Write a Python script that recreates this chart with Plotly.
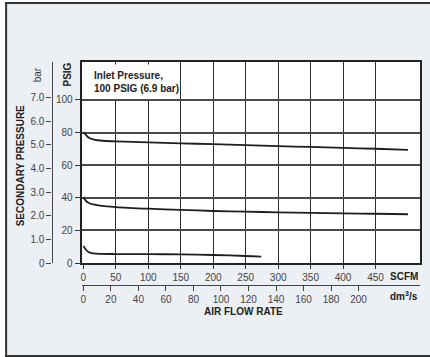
import plotly.graph_objects as go

# ---------------- data ----------------
scfm_ticks = [0, 50, 100, 150, 200, 250, 300, 350, 400, 450]
dm3s_ticks = [0, 20, 40, 60, 80, 100, 120, 140, 160, 180, 200]
psig_ticks = [0, 20, 40, 60, 80, 100]
bar_ticks = [0, 1, 2, 3, 4, 5, 6, 7]
bar_labels = ["0", "1.0", "2.0", "3.0", "4.0", "5.0", "6.0", "7.0"]

flow_80 = [0, 3, 6, 10, 15, 22, 30, 50, 100, 150, 200, 250, 300, 350, 400, 450, 500]
press_80 = [80.3, 79.0, 77.6, 76.5, 75.8, 75.3, 75.0, 74.6, 74.0, 73.4, 72.9, 72.3, 71.7, 71.2, 70.6, 70.1, 69.4]

flow_40 = [0, 3, 6, 10, 15, 25, 50, 100, 150, 200, 250, 300, 350, 400, 450, 500]
press_40 = [40.5, 38.6, 37.4, 36.5, 35.9, 35.2, 34.3, 33.3, 32.6, 31.9, 31.5, 31.1, 30.8, 30.5, 30.2, 29.9]

flow_10 = [0, 3, 6, 10, 15, 25, 50, 100, 150, 200, 250, 274]
press_10 = [10.5, 8.6, 7.3, 6.4, 5.9, 5.6, 5.5, 5.4, 5.3, 4.9, 4.3, 3.9]

SCFM_TO_DM3S = 0.4719
PSI_PER_BAR = 14.5038
x_range = [-1.5, 518.5]
y_range = [0, 123.3]

# ---------------- layout helpers (pixel -> paper) ----------------
W, H = 430, 357
ML, MR, MT, MB = 30, 8, 62, 60
PW = W - ML - MR
PH = H - MT - MB


def px(x):
    return (x - ML) / PW


def py(y):
    return (H - MB - y) / PH


plot_left, plot_bottom = 82.7, 263.0

fig = go.Figure()
line_style = dict(color="#1e1e1e", width=1.8, shape="spline", smoothing=0.6)
for fx, fy in [(flow_80, press_80), (flow_40, press_40), (flow_10, press_10)]:
    fig.add_trace(go.Scatter(x=fx, y=fy, mode="lines", line=line_style,
                             hoverinfo="skip", showlegend=False))
# carrier trace for secondary axes
fig.add_trace(go.Scatter(x=[None], y=[None], xaxis="x2", yaxis="y2",
                         mode="lines", showlegend=False, hoverinfo="skip"))

tick_font = dict(family="Liberation Sans, Arial, sans-serif", size=10, color="#444")
bold_font = dict(family="Liberation Sans, Arial, sans-serif", size=10, color="#222")

fig.update_layout(
    width=W, height=H,
    margin=dict(l=ML, r=MR, t=MT, b=MB, pad=0),
    paper_bgcolor="#eceff3",
    plot_bgcolor="white",
    showlegend=False,
    xaxis=dict(
        domain=[px(plot_left), 1], range=x_range, anchor="y",
        tickvals=scfm_ticks, ticks="outside", ticklen=4, tickwidth=1.2, tickcolor="#333",
        showgrid=True, gridcolor="#2e2e2e", gridwidth=1.4,
        showline=True, mirror=True, linecolor="#222", linewidth=1.5,
        zeroline=False, tickfont=tick_font, fixedrange=True,
    ),
    yaxis=dict(
        domain=[py(plot_bottom), 1], range=y_range, anchor="x",
        tickvals=psig_ticks, ticks="outside", ticklen=6, tickwidth=1.2, tickcolor="#333",
        showgrid=True, gridcolor="#4a4a4a", gridwidth=1.5,
        showline=True, mirror=True, linecolor="#222", linewidth=1.5,
        zeroline=False, tickfont=tick_font, fixedrange=True,
    ),
    xaxis2=dict(
        overlaying="x", anchor="free", position=py(285), side="bottom",
        range=[v * SCFM_TO_DM3S for v in x_range],
        tickvals=dm3s_ticks, ticks="outside", ticklen=5, tickwidth=1.2, tickcolor="#444",
        showgrid=False, showline=True, linecolor="#444", linewidth=1.3,
        zeroline=False, tickfont=tick_font, fixedrange=True,
    ),
    yaxis2=dict(
        overlaying="y", anchor="free", position=px(51.7), side="left",
        range=[v / PSI_PER_BAR for v in y_range],
        tickvals=bar_ticks, ticktext=bar_labels, ticks="outside", ticklen=5,
        tickwidth=1.2, tickcolor="#444",
        showgrid=False, showline=True, linecolor="#444", linewidth=1.3,
        zeroline=False, tickfont=tick_font, fixedrange=True,
    ),
)

# outer frame
frame = dict(color="#333", width=2)
fig.add_shape(type="rect", xref="paper", yref="paper", x0=px(-5), x1=px(5), y0=py(-5), y1=py(362),
              line=dict(width=0), fillcolor="white", layer="above")
fig.add_shape(type="rect", xref="paper", yref="paper", x0=px(-5), x1=px(440), y0=py(-5), y1=py(2),
              line=dict(width=0), fillcolor="white", layer="above")
fig.add_shape(type="line", xref="paper", yref="paper", x0=px(6), x1=px(6), y0=py(2), y1=py(357), line=frame)
fig.add_shape(type="line", xref="paper", yref="paper", x0=px(5), x1=px(440), y0=py(3), y1=py(3), line=frame)
fig.add_shape(type="line", xref="paper", yref="paper", x0=px(5), x1=px(440), y0=py(356), y1=py(356), line=frame)

# white box behind the note
fig.add_shape(type="rect", xref="paper", yref="paper", x0=px(84.2), x1=px(180), y0=py(99), y1=py(64.5),
              line=dict(width=0), fillcolor="white", layer="above")

ann = [
    dict(text="<b>Inlet Pressure,<br>100 PSIG (6.9 bar)</b>", x=px(92.5), y=py(82), xanchor="left",
         yanchor="middle", align="left", font=bold_font),
    dict(text="<b>SCFM</b>", x=1, y=py(276.7), xanchor="right", yanchor="middle", font=bold_font),
    dict(text="<b>dm<sup>3</sup>/s</b>", x=1, y=py(296), xanchor="right", yanchor="middle", font=bold_font),
    dict(text="<b>AIR FLOW RATE</b>", x=px(245), y=py(311.5), xanchor="center", yanchor="middle", font=bold_font),
    dict(text="<b>SECONDARY PRESSURE</b>", x=px(20.3), y=py(166), xanchor="center", yanchor="middle",
         textangle=-90, font=bold_font),
    dict(text="<b>PSIG</b>", x=px(66.7), y=py(75), xanchor="center", yanchor="middle",
         textangle=-90, font=bold_font),
    dict(text="bar", x=px(37.8), y=py(74.5), xanchor="center", yanchor="middle",
         textangle=-90, font=dict(family="Liberation Sans, Arial, sans-serif", size=10, color="#333")),
]
for a in ann:
    a.update(xref="paper", yref="paper", showarrow=False)
    fig.add_annotation(**a)

fig.write_html("out.html", config={"displayModeBar": False},
               post_script="document.body.style.margin='0';")
